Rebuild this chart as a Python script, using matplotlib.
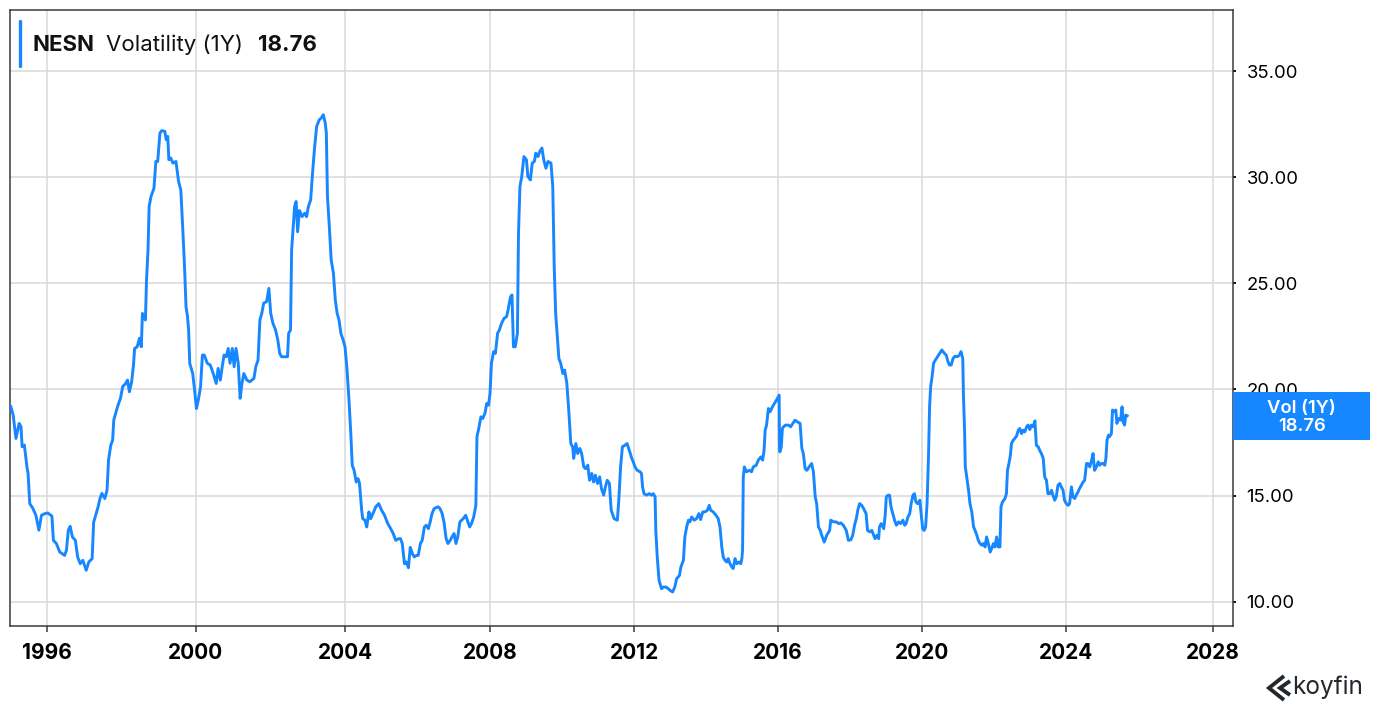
import numpy as np
import matplotlib
matplotlib.use("Agg")
import matplotlib.pyplot as plt
from matplotlib import transforms
from matplotlib.patches import Rectangle
from matplotlib.lines import Line2D

plt.rcParams['font.family'] = ['Inter', 'DejaVu Sans']

# ---------------- data ----------------
years = [
    1995.04, 1995.10, 1995.175, 1995.26, 1995.31, 1995.34, 1995.40, 1995.47, 1995.50, 1995.545,
    1995.63, 1995.71, 1995.79, 1995.86, 1995.95, 1996.03, 1996.14, 1996.18, 1996.26, 1996.35,
    1996.42, 1996.48, 1996.53, 1996.58, 1996.63, 1996.69, 1996.77, 1996.83, 1996.90, 1996.97,
    1997.06, 1997.13, 1997.22, 1997.26, 1997.30, 1997.38, 1997.43, 1997.48, 1997.56, 1997.62,
    1997.66, 1997.72, 1997.77, 1997.80, 1997.85, 1997.90, 1997.98, 1998.04, 1998.12, 1998.17,
    1998.22, 1998.28, 1998.33, 1998.36, 1998.43, 1998.49, 1998.54, 1998.57, 1998.65, 1998.68,
    1998.72, 1998.75, 1998.80, 1998.88, 1998.93, 1998.98, 1999.04, 1999.09, 1999.17, 1999.21,
    1999.25, 1999.28, 1999.33, 1999.39, 1999.47, 1999.54, 1999.60, 1999.65, 1999.70, 1999.74,
    1999.78, 1999.81, 1999.84, 1999.92, 1999.97, 2000.02, 2000.07, 2000.13, 2000.18, 2000.23,
    2000.31, 2000.39, 2000.47, 2000.55, 2000.60, 2000.66, 2000.71, 2000.76, 2000.82, 2000.87,
    2000.92, 2000.98, 2001.03, 2001.08, 2001.14, 2001.19, 2001.24, 2001.29, 2001.37, 2001.45,
    2001.56, 2001.61, 2001.67, 2001.72, 2001.77, 2001.82, 2001.90, 2001.96, 2002.01, 2002.07,
    2002.14, 2002.20, 2002.25, 2002.30, 2002.39, 2002.46, 2002.49, 2002.54, 2002.57, 2002.60,
    2002.65, 2002.69, 2002.73, 2002.78, 2002.85, 2002.92, 2002.97, 2003.02, 2003.08, 2003.13,
    2003.18, 2003.24, 2003.31, 2003.36, 2003.42, 2003.47, 2003.50, 2003.53, 2003.58, 2003.63,
    2003.69, 2003.74, 2003.79, 2003.84, 2003.89, 2003.95, 2004.00, 2004.05, 2004.11, 2004.16,
    2004.20, 2004.25, 2004.31, 2004.36, 2004.40, 2004.46, 2004.49, 2004.55, 2004.60, 2004.66,
    2004.71, 2004.77, 2004.85, 2004.93, 2005.01, 2005.09, 2005.18, 2005.26, 2005.33, 2005.40,
    2005.48, 2005.53, 2005.58, 2005.64, 2005.69, 2005.75, 2005.80, 2005.86, 2005.91, 2005.97,
    2006.02, 2006.08, 2006.13, 2006.19, 2006.24, 2006.30, 2006.35, 2006.40, 2006.46, 2006.57,
    2006.62, 2006.68, 2006.73, 2006.79, 2006.84, 2006.90, 2006.95, 2007.01, 2007.06, 2007.11,
    2007.17, 2007.26, 2007.33, 2007.39, 2007.44, 2007.49, 2007.55, 2007.61, 2007.64, 2007.69,
    2007.75, 2007.80, 2007.86, 2007.91, 2007.96, 2008.00, 2008.04, 2008.10, 2008.15, 2008.21,
    2008.26, 2008.32, 2008.39, 2008.46, 2008.50, 2008.57, 2008.61, 2008.65, 2008.70, 2008.76,
    2008.79, 2008.83, 2008.88, 2008.94, 2009.01, 2009.05, 2009.12, 2009.17, 2009.23, 2009.27,
    2009.33, 2009.38, 2009.44, 2009.49, 2009.55, 2009.61, 2009.69, 2009.74, 2009.78, 2009.82,
    2009.86, 2009.91, 2009.96, 2010.02, 2010.07, 2010.13, 2010.18, 2010.24, 2010.29, 2010.32,
    2010.38, 2010.43, 2010.49, 2010.54, 2010.60, 2010.65, 2010.71, 2010.76, 2010.82, 2010.87,
    2010.92, 2010.98, 2011.04, 2011.09, 2011.15, 2011.20, 2011.25, 2011.31, 2011.36, 2011.44,
    2011.53, 2011.57, 2011.62,
    2011.67, 2011.74, 2011.80, 2011.86, 2011.93, 2011.97, 2012.02, 2012.08, 2012.16, 2012.20,
    2012.23, 2012.27, 2012.34, 2012.42, 2012.48, 2012.53, 2012.58, 2012.60, 2012.64, 2012.69,
    2012.76, 2012.81, 2012.88, 2012.95, 2013.00, 2013.07, 2013.13, 2013.18, 2013.26, 2013.30,
    2013.37, 2013.41, 2013.46, 2013.51, 2013.55, 2013.60, 2013.67, 2013.74, 2013.80, 2013.85,
    2013.91, 2013.97, 2014.04, 2014.09, 2014.13, 2014.20, 2014.28, 2014.34, 2014.39, 2014.44,
    2014.48, 2014.53, 2014.58, 2014.62, 2014.67, 2014.72, 2014.76, 2014.81, 2014.86, 2014.92,
    2014.97, 2015.00, 2015.02, 2015.04, 2015.07, 2015.13, 2015.21, 2015.27, 2015.32, 2015.40,
    2015.46, 2015.53, 2015.58, 2015.62, 2015.65, 2015.69, 2015.74, 2015.79, 2015.83, 2015.88,
    2015.94, 2015.99, 2016.04, 2016.05, 2016.06, 2016.10, 2016.13, 2016.16, 2016.22, 2016.30,
    2016.36, 2016.42, 2016.48, 2016.55, 2016.62, 2016.67, 2016.71, 2016.76, 2016.81, 2016.87,
    2016.94, 2016.99, 2017.04, 2017.08, 2017.13, 2017.18, 2017.22, 2017.29, 2017.36, 2017.44,
    2017.47, 2017.55, 2017.62, 2017.69, 2017.75, 2017.82, 2017.90, 2017.96, 2018.03, 2018.08,
    2018.13, 2018.18, 2018.22, 2018.27, 2018.33, 2018.38, 2018.45, 2018.49, 2018.55, 2018.61,
    2018.66, 2018.70, 2018.75, 2018.80, 2018.82, 2018.87, 2018.94, 2018.98, 2019.01, 2019.06,
    2019.10, 2019.14, 2019.19, 2019.24, 2019.29, 2019.35, 2019.41, 2019.47, 2019.52, 2019.56,
    2019.61, 2019.66, 2019.70, 2019.75, 2019.79, 2019.83, 2019.88, 2019.94, 2019.98, 2020.02,
    2020.06, 2020.10, 2020.14, 2020.18, 2020.21, 2020.24, 2020.28, 2020.32, 2020.37, 2020.43,
    2020.49, 2020.55, 2020.62, 2020.67, 2020.72, 2020.76, 2020.81, 2020.86, 2020.92, 2020.98,
    2021.04, 2021.08, 2021.13, 2021.15, 2021.18, 2021.20, 2021.24, 2021.29, 2021.33, 2021.38,
    2021.43, 2021.47, 2021.52, 2021.56, 2021.61, 2021.66, 2021.70, 2021.75, 2021.79, 2021.84,
    2021.89, 2021.93, 2021.98, 2022.02, 2022.07, 2022.11, 2022.16, 2022.19, 2022.23, 2022.30,
    2022.34, 2022.37, 2022.41, 2022.45, 2022.48, 2022.53, 2022.57, 2022.62, 2022.67, 2022.71,
    2022.76, 2022.80, 2022.85, 2022.90, 2022.94, 2022.99, 2023.03, 2023.08, 2023.13, 2023.17,
    2023.22, 2023.26, 2023.31, 2023.36, 2023.40, 2023.45, 2023.49, 2023.54, 2023.59, 2023.63,
    2023.68, 2023.72, 2023.77, 2023.82, 2023.86, 2023.91, 2023.95, 2024.00, 2024.05, 2024.09,
    2024.14, 2024.18, 2024.23, 2024.27, 2024.32, 2024.36, 2024.41, 2024.46, 2024.50, 2024.55,
    2024.59, 2024.64, 2024.68, 2024.73, 2024.77, 2024.82, 2024.87, 2024.91, 2024.96, 2025.00,
    2025.05, 2025.08, 2025.11, 2025.15, 2025.18, 2025.23, 2025.26, 2025.30, 2025.35, 2025.38,
    2025.43, 2025.48, 2025.52, 2025.55, 2025.59, 2025.62, 2025.66,
]

volatility = [
    19.18, 18.79, 17.69, 18.40, 18.24, 17.30, 17.38, 16.35, 16.04, 14.62,
    14.39, 14.07, 13.37, 14.07, 14.15, 14.18, 14.03, 12.89, 12.74, 12.34,
    12.26, 12.18, 12.42, 13.37, 13.55, 13.05, 12.89, 12.11, 11.79, 11.95,
    11.48, 11.87, 12.03, 13.74, 13.98, 14.47, 14.86, 15.10, 14.86, 15.25,
    16.67, 17.37, 17.61, 18.55, 18.87, 19.18, 19.58, 20.13, 20.28, 20.44,
    19.89, 20.36, 21.15, 21.93, 22.01, 22.41, 22.01, 23.58, 23.27, 25.16,
    26.57, 28.62, 29.09, 29.48, 30.74, 30.74, 32.08, 32.19, 32.16, 31.76,
    31.92, 30.82, 30.90, 30.66, 30.74, 29.80, 29.40, 27.67, 25.79, 23.90,
    23.43, 22.80, 21.23, 20.75, 19.97, 19.10, 19.50, 20.13, 21.62, 21.62,
    21.23, 21.15, 20.75, 20.28, 20.99, 20.44, 21.07, 21.62, 21.54, 21.93,
    21.23, 21.93, 21.07, 21.93, 21.23, 19.58, 20.28, 20.75, 20.44, 20.36,
    20.52, 21.07, 21.38, 23.27, 23.58, 24.06, 24.14, 24.76, 23.58, 23.11,
    22.80, 22.33, 21.70, 21.54, 21.54, 21.54, 22.64, 22.80, 26.57, 27.36,
    28.62, 28.85, 27.43, 28.43, 28.14, 28.30, 28.14, 28.62, 28.93, 30.19,
    31.29, 32.39, 32.70, 32.78, 32.94, 32.55, 32.08, 29.09, 27.67, 26.10,
    25.47, 24.21, 23.58, 23.27, 22.64, 22.33, 22.01, 21.07, 19.50, 17.92,
    16.43, 16.19, 15.64, 15.80, 15.57, 14.31, 13.91, 13.84, 13.52, 14.23,
    13.91, 14.15, 14.47, 14.62, 14.31, 14.07, 13.68, 13.44, 13.21, 12.89,
    12.97, 12.97, 12.74, 11.79, 11.87, 11.60, 12.56, 12.26, 12.11, 12.18,
    12.18, 12.74, 12.89, 13.52, 13.60, 13.44, 13.76, 14.15, 14.39, 14.47,
    14.39, 14.15, 13.76, 12.97, 12.74, 12.89, 13.05, 13.21, 12.74, 13.05,
    13.76, 13.91, 14.07, 13.76, 13.52, 13.68, 13.99, 14.54, 17.77, 18.16,
    18.71, 18.63, 18.87, 19.34, 19.26, 19.81, 21.23, 21.78, 21.70, 22.64,
    22.80, 23.11, 23.35, 23.43, 23.74, 24.37, 24.45, 22.01, 22.01, 22.64,
    27.36, 29.56, 30.03, 30.97, 30.82, 30.03, 29.87, 30.66, 30.74, 31.13,
    30.97, 31.21, 31.37, 30.82, 30.42, 30.74, 30.66, 29.56, 25.79, 23.58,
    22.64, 21.45, 21.23, 20.75, 20.91, 20.28, 19.10, 17.45, 17.30, 16.75,
    17.45, 16.98, 17.22, 16.98, 16.35, 16.27, 16.43, 15.72, 16.04, 15.64,
    15.96, 15.57, 15.88, 15.33, 15.02, 15.41, 15.72, 15.57, 14.31, 13.91,
    13.84, 14.78, 16.35,
    17.30, 17.37, 17.45, 17.14, 16.75, 16.59, 16.35, 16.19, 16.12, 16.04,
    15.41, 15.09, 15.02, 15.09, 15.02, 15.09, 14.94, 13.36, 12.11, 11.01,
    10.61, 10.69, 10.69, 10.61, 10.53, 10.46, 10.69, 11.08, 11.24, 11.64,
    11.95, 13.05, 13.52, 13.84, 13.76, 13.99, 13.84, 13.92, 14.15, 13.87,
    14.23, 14.23, 14.31, 14.54, 14.31, 14.23, 14.07, 13.92, 13.52, 12.58,
    12.11, 11.95, 11.87, 12.03, 11.79, 11.64, 11.56, 12.03, 11.79, 11.87,
    11.79, 12.03, 12.42, 15.88, 16.35, 16.12, 16.19, 16.12, 16.35, 16.43,
    16.67, 16.82, 16.67, 17.14, 18.08, 18.32, 19.10, 18.95, 19.10, 19.26,
    19.42, 19.58, 19.73, 17.22, 17.06, 17.30, 18.16, 18.24, 18.32, 18.32,
    18.24, 18.40, 18.55, 18.47, 18.40, 17.22, 16.98, 16.27, 16.19, 16.35,
    16.51, 16.12, 14.94, 14.62, 13.52, 13.36, 13.13, 12.81, 13.13, 13.36,
    13.84, 13.76, 13.76, 13.68, 13.71, 13.60, 13.36, 12.89, 12.92, 13.13,
    13.60, 13.92, 14.31, 14.62, 14.54, 14.39, 14.15, 13.36, 13.29, 13.36,
    13.13, 12.97, 13.13, 12.97, 13.52, 13.68, 13.44, 14.07, 14.94, 15.02,
    15.02, 14.47, 14.15, 13.84, 13.60, 13.76, 13.68, 13.84, 13.60, 13.68,
    13.99, 14.15, 14.62, 15.02, 15.09, 14.70, 14.62, 14.78, 14.07, 13.44,
    13.36, 13.52, 14.62, 16.82, 19.18, 20.13, 20.60, 21.23, 21.38, 21.54,
    21.70, 21.86, 21.70, 21.62, 21.31, 21.15, 21.15, 21.46, 21.57, 21.54,
    21.62, 21.78, 21.46, 19.65, 18.08, 16.35, 15.88, 15.25, 14.62, 14.23,
    13.52, 13.36, 13.13, 12.89, 12.74, 12.66, 12.74, 12.58, 13.05, 12.74,
    12.34, 12.50, 12.74, 12.58, 13.05, 12.58, 12.58, 14.47, 14.70, 14.86,
    15.09, 16.19, 16.51, 16.90, 17.45, 17.61, 17.69, 17.80, 18.08, 18.16,
    17.92, 18.08, 18.00, 18.24, 18.32, 18.11, 18.32, 18.24, 18.52, 17.37,
    17.30, 17.14, 16.98, 16.75, 15.88, 15.72, 15.09, 15.09, 15.25, 15.02,
    14.78, 14.94, 15.49, 15.57, 15.41, 15.25, 14.78, 14.62, 14.54, 14.62,
    15.41, 14.94, 14.86, 15.02, 15.17, 15.33, 15.49, 15.64, 15.72, 16.51,
    16.51, 16.35, 16.59, 16.98, 16.19, 16.35, 16.59, 16.43, 16.51, 16.51,
    16.43, 16.75, 17.61, 17.85, 17.77, 17.92, 19.03, 18.95, 19.03, 18.40,
    18.63, 18.55, 19.18, 18.47, 18.32, 18.79, 18.76,
]

tick_years = [1996, 2000, 2004, 2008, 2012, 2016, 2020, 2024, 2028]
tick_labels = ["1996", "2000", "2004", "2008", "2012", "2016", "2020", "2024", "2028"]
y_ticks = [10, 15, 20, 25, 30, 35]
ticker = "NESN"
metric = "Volatility (1Y)"
last_value = 18.76
badge_label = "Vol (1Y)"

# ---------------- layout ----------------
W, H = 1380, 712
# rendered positions of year gridlines in the source chart (slightly non-uniform)
ref_px = [46.7, 195.7, 345.0, 490.0, 634.3, 777.7, 922.0, 1066.3, 1213.0]
ext_years = np.array([1990] + tick_years + [2034], dtype=float)
ext_px = np.array([ref_px[0] - 6 * 37.25] + ref_px + [ref_px[-1] + 6 * 36.7])

def fwd(x):
    return np.interp(x, ext_years, ext_px)

def inv(p):
    return np.interp(p, ext_px, ext_years)

LINE = '#1787FF'
GRID = '#d9d9d9'
SPINE = '#3a3a3a'

fig = plt.figure(figsize=(W / 100, H / 100), dpi=100)
fig.patch.set_facecolor('white')
ax_left, ax_right, ax_top, ax_bottom = 10, 1233.3, 10, 626
ax = fig.add_axes([ax_left / W, 1 - ax_bottom / H, (ax_right - ax_left) / W, (ax_bottom - ax_top) / H])

ax.plot(years, volatility, color=LINE, lw=2.1, solid_joinstyle='round', zorder=3)

ax.set_xscale('function', functions=(fwd, inv))
ax.set_xlim(inv(ax_left), inv(ax_right))
ax.set_ylim(8.855, 37.875)

ax.set_xticks(tick_years)
ax.set_xticklabels(tick_labels)
ax.xaxis.set_minor_locator(matplotlib.ticker.NullLocator())
ax.set_yticks(y_ticks)
ax.set_yticklabels([f"{v:.2f}" for v in y_ticks])
ax.yaxis.tick_right()

ax.grid(True, color=GRID, lw=1.1, zorder=0)
ax.set_axisbelow(True)
for s in ax.spines.values():
    s.set_color(SPINE)
    s.set_linewidth(1.1)

ax.tick_params(axis='x', direction='out', length=4, width=1.1, color=SPINE, pad=8,
               labelsize=15, labelcolor='black')
for lbl in ax.get_xticklabels():
    lbl.set_fontweight('bold')
ax.tick_params(axis='y', direction='out', length=2.5, width=1.3, color='black', pad=7,
               labelsize=13.3, labelcolor='black')

# right-edge value badge
tr = transforms.blended_transform_factory(ax.transAxes, ax.transData)
badge_w = (1370 - ax_right) / (ax_right - ax_left)
ax.add_patch(Rectangle((1.0, last_value - 1.12), badge_w, 2.24, transform=tr,
                       facecolor=LINE, edgecolor='none', clip_on=False, zorder=5))
ax.text(1.0 + badge_w / 2, last_value + 0.36, badge_label, transform=tr, ha='center', va='center',
        color='white', fontsize=13.3, fontweight='semibold', zorder=6, clip_on=False)
ax.text(1.0 + badge_w / 2, last_value - 0.5, f"{last_value:.2f}", transform=tr, ha='center', va='center',
        color='white', fontsize=13.3, fontweight='semibold', zorder=6, clip_on=False)

# legend header
fig.add_artist(Line2D([20 / W, 20 / W], [1 - 21 / H, 1 - 66 / H], color=LINE, lw=2.4,
                      solid_capstyle='round'))
ty = 1 - 45 / H
fig.text(33 / W, ty, ticker, fontsize=16, fontweight='bold', va='center', ha='left', color='#111')
fig.text(106.5 / W, ty, metric, fontsize=16, va='center', ha='left', color='#111')
fig.text(258 / W, ty, f"{last_value:.2f}", fontsize=16, fontweight='bold', va='center', ha='left', color='#111')

# koyfin mark
LOGO = '#23282d'
def fp(x, y):
    return x / W, 1 - y / H
p1 = [fp(1284, 676), fp(1269, 688), fp(1284, 700)]
p2 = [fp(1290, 681), fp(1280, 688), fp(1290, 695)]
for pts in (p1, p2):
    xs, ys = zip(*pts)
    fig.add_artist(Line2D(xs, ys, color=LOGO, lw=2.8, solid_joinstyle='miter', solid_capstyle='butt'))
fig.text(1292 / W, 1 - 694 / H, "koyfin", fontsize=17.5, color=LOGO, va='baseline', ha='left')

fig.savefig('out.png', dpi=100, facecolor='white')
